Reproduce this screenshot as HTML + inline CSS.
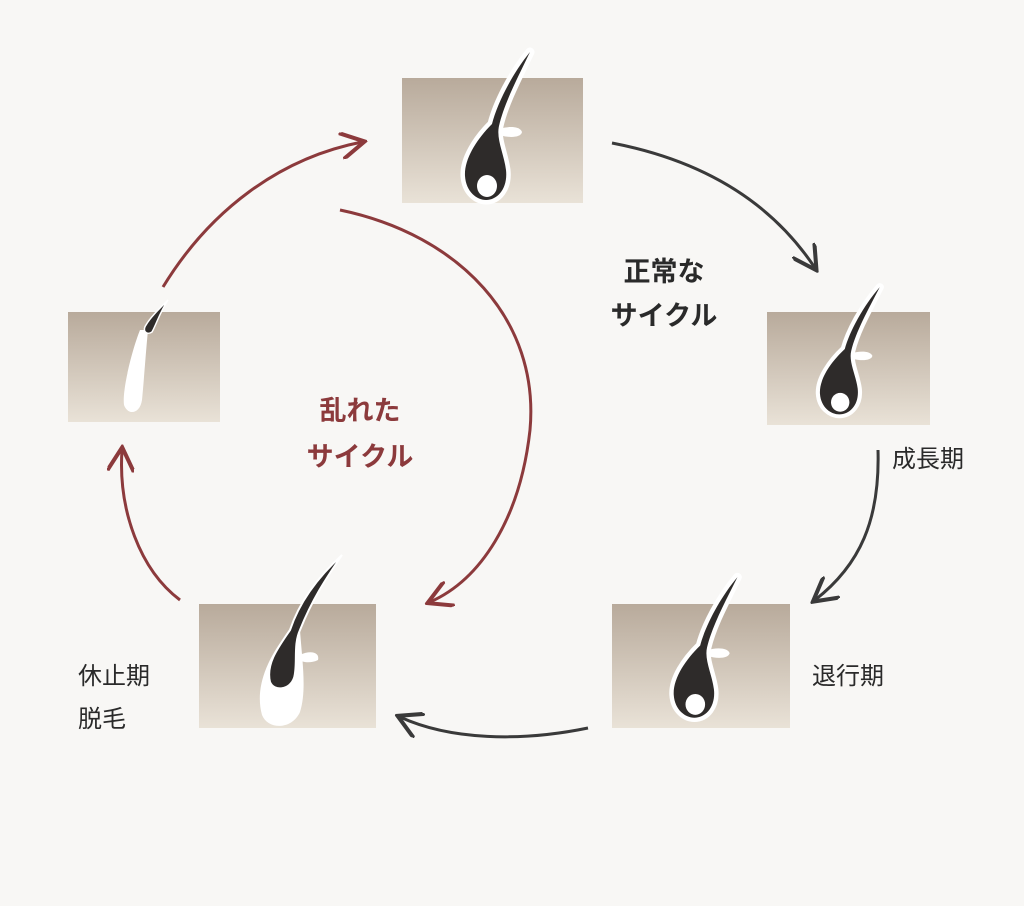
<!DOCTYPE html>
<html><head><meta charset="utf-8"><style>
body{margin:0;background:#f8f7f5;}
svg{display:block}
text{font-family:"Liberation Sans","Noto Sans CJK JP",sans-serif;}
</style></head><body>
<svg width="1024" height="906" viewBox="0 0 1024 906">
<defs>
<linearGradient id="sk" x1="0" y1="0" x2="0" y2="1"><stop offset="0" stop-color="#b8aa9b"/><stop offset="1" stop-color="#e9e2d7"/></linearGradient>
<marker id="ad" viewBox="0 0 10 10" refX="8" refY="5" markerWidth="9" markerHeight="9" orient="auto-start-reverse"><path d="M0,0 L9,5 L0,10" fill="none" stroke="#3a3a3a" stroke-width="1.5"/></marker>
<marker id="ar" viewBox="0 0 10 10" refX="8" refY="5" markerWidth="9" markerHeight="9" orient="auto-start-reverse"><path d="M0,0 L9,5 L0,10" fill="none" stroke="#8c3a3c" stroke-width="1.5"/></marker>
<g id="hair">
<path d="M128,-22 C110,0 95,30 90,50 C75,65 62,85 63,102 C64,118 75,126 84,126 C96,126 106,114 104,96 C102,80 94,65 97,52 C102,30 115,5 128,-22 Z" fill="#fff" stroke="#fff" stroke-width="9" stroke-linejoin="round"/>
<path d="M97,55 C106,52 118,52 120,58 C119,64 106,64 98,61 Z" fill="#fff"/>
<path d="M128,-22 C110,0 95,30 90,50 C75,65 62,85 63,102 C64,118 75,126 84,126 C96,126 106,114 104,96 C102,80 94,65 97,52 C102,30 115,5 128,-22 Z" fill="#2e2b2a"/>
<ellipse cx="85" cy="112" rx="10" ry="11" fill="#fff"/>
</g>
</defs>
<rect x="402" y="78" width="181" height="125" fill="url(#sk)"/>
<use href="#hair" transform="translate(402,74)"/>
<rect x="767" y="312" width="163" height="113" fill="url(#sk)"/>
<use href="#hair" transform="translate(762,306) scale(0.92,0.86)"/>
<rect x="612" y="604" width="178" height="124" fill="url(#sk)"/>
<use href="#hair" transform="translate(612,598) scale(0.98,0.95)"/>
<rect x="199" y="604" width="177" height="124" fill="url(#sk)"/>
<path d="M290,630 C265,660 255,690 262,715 C268,730 292,730 300,712 C307,690 302,660 300,630 Z" fill="#fff"/>
<path d="M300,655 C310,650 320,652 318,660 C310,664 302,662 300,660Z" fill="#fff"/>
<path d="M342,555 C320,575 300,600 290,630 C276,650 266,665 270,682 C274,692 290,690 294,678 C298,665 293,645 300,630 C312,600 325,580 342,555 Z" fill="#2e2b2a" stroke="#fff" stroke-width="2"/>
<rect x="68" y="312" width="152" height="110" fill="url(#sk)"/>
<path d="M140,330 C132,350 122,390 124,405 C128,416 140,414 142,400 C144,380 146,350 148,330 Z" fill="#fff"/>
<path d="M168,300 C158,310 150,318 146,325 C142,330 146,336 152,332 C156,325 160,312 168,300 Z" fill="#2e2b2a" stroke="#fff" stroke-width="1.5"/>
<path d="M612,143 C700,160 770,200 815,268" fill="none" stroke="#3a3a3a" stroke-width="3" marker-end="url(#ad)"/>
<path d="M878,450 C880,520 860,565 815,600" fill="none" stroke="#3a3a3a" stroke-width="3" marker-end="url(#ad)"/>
<path d="M588,728 C520,742 450,740 400,717" fill="none" stroke="#3a3a3a" stroke-width="3" marker-end="url(#ad)"/>
<path d="M180,600 C140,570 118,510 122,450" fill="none" stroke="#8c3a3c" stroke-width="3" marker-end="url(#ar)"/>
<path d="M163,287 C210,210 280,158 362,142" fill="none" stroke="#8c3a3c" stroke-width="3" marker-end="url(#ar)"/>
<path d="M340,210 C460,235 540,320 530,430 C520,520 480,580 430,602" fill="none" stroke="#8c3a3c" stroke-width="3" marker-end="url(#ar)"/>
<g font-weight="bold" font-size="27" fill="#2a2a2a" text-anchor="middle">
<text x="664" y="281">正常な</text><text x="664" y="325">サイクル</text>
</g>
<g font-weight="bold" font-size="27" fill="#8c3a3c" text-anchor="middle">
<text x="360" y="420">乱れた</text><text x="360" y="466">サイクル</text>
</g>
<g font-size="24" fill="#2a2a2a">
<text x="892" y="467">成長期</text>
<text x="812" y="684">退行期</text>
<text x="78" y="684">休止期</text>
<text x="78" y="727">脱毛</text>
</g>
</svg>
</body></html>
